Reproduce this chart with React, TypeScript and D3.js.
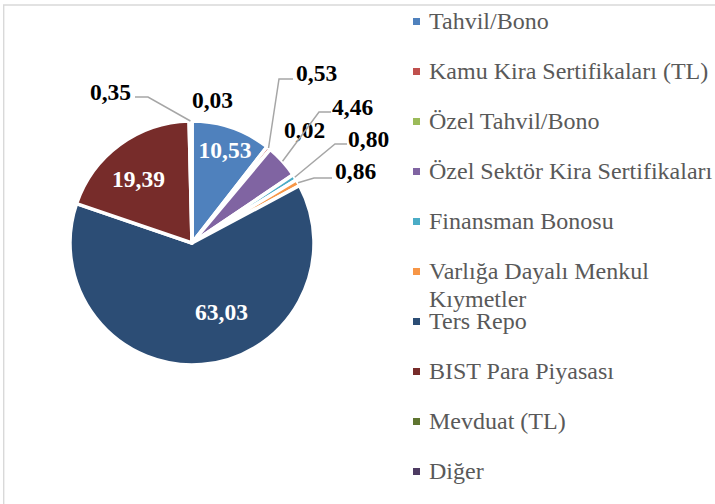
import React from "react";
import * as d3 from "d3";

const categories = [
  "Tahvil/Bono",
  "Kamu Kira Sertifikaları (TL)",
  "Özel Tahvil/Bono",
  "Özel Sektör Kira Sertifikaları",
  "Finansman Bonosu",
  "Varlığa Dayalı Menkul Kıymetler",
  "Ters Repo",
  "BIST Para Piyasası",
  "Mevduat (TL)",
  "Diğer",
];
const values = [10.53, 0.53, 0.02, 4.46, 0.8, 0.86, 63.03, 19.39, 0.35, 0.03];
const valueLabels = ["10,53", "0,53", "0,02", "4,46", "0,80", "0,86", "63,03", "19,39", "0,35", "0,03"];
const legendLines = [
  ["Tahvil/Bono"],
  ["Kamu Kira Sertifikaları (TL)"],
  ["Özel Tahvil/Bono"],
  ["Özel Sektör Kira Sertifikaları"],
  ["Finansman Bonosu"],
  ["Varlığa Dayalı Menkul", "Kıymetler"],
  ["Ters Repo"],
  ["BIST Para Piyasası"],
  ["Mevduat (TL)"],
  ["Diğer"],
];
const colors = [
  "#4F81BD", "#C0504D", "#9BBB59", "#8064A2", "#4BACC6",
  "#F79646", "#2C4D75", "#772C2A", "#5F7530", "#4D3B62",
];

// label layout (offsets relative to pie centre); inside labels white
type LabelLayout = {
  inside: boolean;
  tx: number; ty: number; anchor: "start" | "middle" | "end";
  elbow?: [number, number]; end?: [number, number];
};
const labelLayout: LabelLayout[] = [
  { inside: true, tx: 33, ty: -85, anchor: "middle" },
  { inside: false, tx: 104, ty: -162, anchor: "start", elbow: [87, -164], end: [101, -164] },
  { inside: false, tx: 92, ty: -105, anchor: "start" },
  { inside: false, tx: 140, ty: -128, anchor: "start", elbow: [127, -131], end: [139, -131] },
  { inside: false, tx: 156, ty: -96, anchor: "start", elbow: [143, -99], end: [155, -99] },
  { inside: false, tx: 143, ty: -64, anchor: "start", elbow: [122, -65], end: [140, -65] },
  { inside: true, tx: 29.5, ty: 77, anchor: "middle" },
  { inside: true, tx: -53.5, ty: -56, anchor: "middle" },
  { inside: false, tx: -61, ty: -143, anchor: "end", elbow: [-44, -146], end: [-57, -146] },
  { inside: false, tx: 20.5, ty: -135, anchor: "middle" },
];

const W = 715;
const H = 504;
const cx = 192;
const cy = 243;
const R = 122;
const FONT = "Liberation Serif";

export default function App() {
  const pie = d3
    .pie<number>()
    .sort(null)
    .value((d) => d)
    .startAngle(0)
    .endAngle(2 * Math.PI);
  const arcs = pie(values);
  const arc = d3.arc<d3.PieArcDatum<number>>().innerRadius(0).outerRadius(R);

  const legendX = 413;
  const legendY0 = 29;
  const legendStep = 50;

  return (
    <svg id="chart" width={W} height={H} style={{ position: "absolute", left: 0, top: 0 }}>
      <style>{`#chart text, #chart tspan { font-family: "Liberation Serif", "Times New Roman" !important; }`}</style>
      <rect x={0} y={0} width={W} height={H} fill="#fff" />
      <line x1={3} y1={5} x2={W} y2={5} stroke="#D9D9D9" strokeWidth={1.4} />
      <line x1={3.7} y1={5} x2={3.7} y2={H} stroke="#D9D9D9" strokeWidth={1.4} />
      <g transform={`translate(${cx},${cy})`}>
        {arcs.map((a, i) => (
          <path key={i} d={arc(a) || ""} fill={colors[i]} stroke="#fff" strokeWidth={3.5} strokeLinejoin="round" />
        ))}
        {arcs.map((a, i) => {
          const L = labelLayout[i];
          const mid = (a.startAngle + a.endAngle) / 2;
          const sx = R * Math.sin(mid);
          const sy = -R * Math.cos(mid);
          return (
            <g key={"l" + i}>
              {L.elbow && L.end && (
                <polyline
                  points={`${sx},${sy} ${L.elbow[0]},${L.elbow[1]} ${L.end[0]},${L.end[1]}`}
                  fill="none"
                  stroke="#A6A6A6"
                  strokeWidth={1.5}
                />
              )}
              <text
                x={L.tx}
                y={L.ty}
                textAnchor={L.anchor}
                fontFamily={FONT}
                fontWeight={700}
                fontSize={23.5}
                fill={L.inside ? "#fff" : "#000"}
              >
                {valueLabels[i]}
              </text>
            </g>
          );
        })}
      </g>
      <g>
        {categories.map((c, i) => {
          const base = legendY0 + legendStep * i;
          return (
            <g key={c}>
              <rect x={legendX} y={base - 11} width={7} height={7} fill={colors[i]} />
              {legendLines[i].map((ln, j) => (
                <text key={j} x={legendX + 16} y={base + j * 28} fontFamily={FONT} fontSize={24} fill="#595959">
                  {ln}
                </text>
              ))}
            </g>
          );
        })}
      </g>
    </svg>
  );
}
